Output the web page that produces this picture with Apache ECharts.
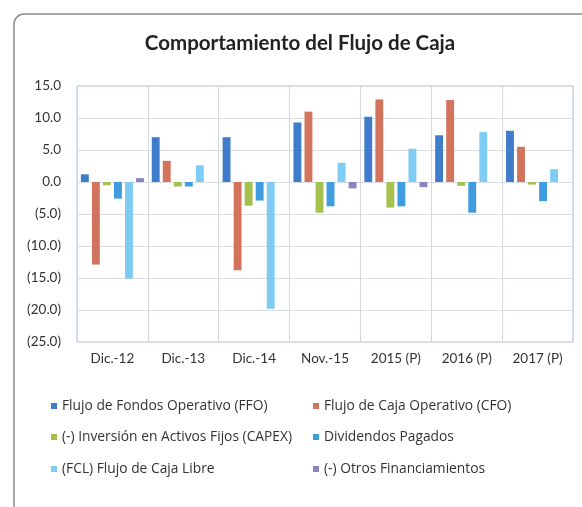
<!DOCTYPE html>
<html lang="es">
<head>
<meta charset="utf-8">
<title>Comportamiento del Flujo de Caja</title>
<script src="https://cdn.jsdelivr.net/npm/echarts@6/dist/echarts.min.js"></script>
<style>
    body { margin: 0; background: #fff; }
    #main { width: 582px; height: 507px; }
</style>
</head>
<body>
<div id="main"></div>
<script type="text/javascript">
// categorias y series
var periodos = ['Dic.-12', 'Dic.-13', 'Dic.-14', 'Nov.-15', '2015 (P)', '2016 (P)', '2017 (P)'];
var ffo     = [1.2, 7.0, 7.0, 9.3, 10.2, 7.3, 8.0];
var cfo     = [-12.9, 3.3, -13.8, 11.0, 12.9, 12.8, 5.5];
var capex   = [-0.5, -0.7, -3.7, -4.8, -4.0, -0.6, -0.4];
var divid   = [-2.6, -0.7, -2.9, -3.8, -3.8, -4.8, -3.0];
var fcl     = [-15.1, 2.6, -19.8, 3.0, 5.2, 7.8, 2.0];
var otros   = [0.6, 0, 0, -1.0, -0.8, 0, 0];
var nombres = [
    'Flujo de Fondos Operativo (FFO)',
    'Flujo de Caja Operativo (CFO)',
    '(-) Inversión en Activos Fijos (CAPEX)',
    'Dividendos Pagados',
    '(FCL) Flujo de Caja Libre',
    '(-) Otros Financiamientos'
];
var colores = ['#3f7ccb', '#d3735c', '#a5c04c', '#3d9de0', '#7ecbf3', '#8a83c2'];

var myChart = echarts.init(document.getElementById('main'));

var datos = [ffo, cfo, capex, divid, fcl, otros];
var series = [];
for (var i = 0; i < datos.length; i++) {
    series.push({
        name: nombres[i],
        type: 'bar',
        data: datos[i],
        barCategoryGap: '11%',
        barGap: '40%',
        itemStyle: { color: colores[i] }
    });
}

// leyenda en 3 filas x 2 columnas
var legendas = [];
var posLeg = [[46, 394], [308, 394], [46, 425], [308, 425], [46, 457], [308, 457]];
for (var j = 0; j < nombres.length; j++) {
    legendas.push({
        data: [nombres[j]],
        left: posLeg[j][0],
        top: posLeg[j][1],
        icon: 'rect',
        itemWidth: 6,
        itemHeight: 6,
        itemGap: 5,
        textStyle: { fontFamily: 'Open Sans', fontSize: 13.8, color: '#333' }
    });
}

var option = {
    animation: false,
    title: {
        text: 'Comportamiento del Flujo de Caja',
        left: 295,
        textAlign: 'center',
        top: 28,
        textStyle: { fontFamily: 'Lato', fontWeight: 'bold', fontSize: 20.5, color: '#222' }
    },
    legend: legendas,
    graphic: [{
        type: 'rect',
        shape: { x: 14, y: 14, width: 620, height: 540, r: 10 },
        style: { fill: 'none', stroke: '#8a8a8a', lineWidth: 1.5 },
        silent: true
    }],
    grid: {
        left: 77, right: 9, top: 86, bottom: 165,
        show: true,
        borderColor: '#aebfdc',
        borderWidth: 1
    },
    xAxis: {
        type: 'category',
        data: periodos,
        axisLine: { show: false },
        axisTick: { show: false },
        splitLine: { show: true, lineStyle: { color: '#d2d8e2', width: 1 } },
        axisLabel: { fontFamily: 'Lato', fontSize: 13.5, color: '#333', margin: 10 }
    },
    yAxis: {
        type: 'value',
        min: -25,
        max: 15,
        interval: 5,
        axisLine: { show: false },
        axisTick: { show: false },
        splitLine: { lineStyle: { color: '#d8dde6', width: 1 } },
        axisLabel: {
            fontFamily: 'Lato', fontSize: 13.5, color: '#333', margin: 16,
            formatter: function (v) {
                return v < 0 ? '(' + Math.abs(v).toFixed(1) + ')' : v.toFixed(1);
            }
        }
    },
    series: series
};

myChart.setOption(option);
</script>
</body>
</html>
